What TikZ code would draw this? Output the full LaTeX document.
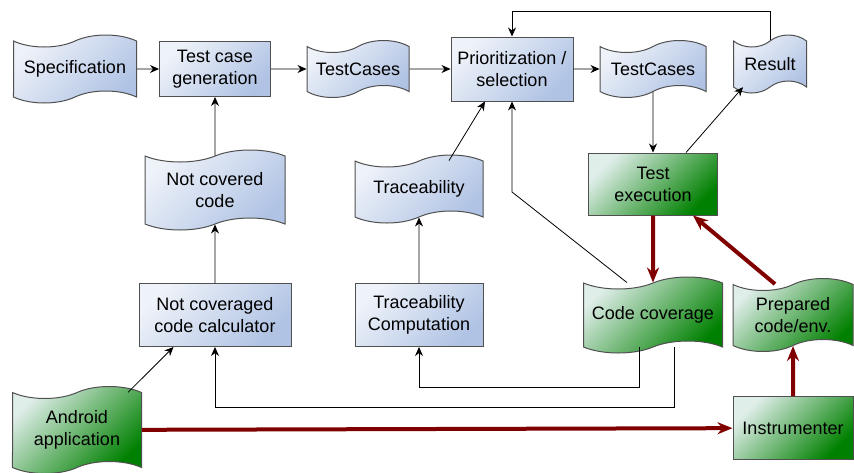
\documentclass[tikz,border=0pt]{standalone}
\usepackage{fontspec}
\setmainfont{Liberation Sans}
\usetikzlibrary{shapes.symbols,positioning,arrows.meta}

\definecolor{blueL}{RGB}{238,242,249}
\definecolor{blueR}{RGB}{176,195,228}
\definecolor{greenL}{RGB}{224,238,234}
\definecolor{greenR}{RGB}{0,128,0}
\definecolor{edgegray}{RGB}{80,80,80}
\definecolor{flowred}{RGB}{128,0,0}

\tikzset{
  base/.style={draw=edgegray, line width=1pt, align=center, inner sep=2pt,
    font=\fontsize{18pt}{22pt}\selectfont},
  bluefill/.style={left color=blueL, right color=blueR, shading angle=45},
  greenfill/.style={left color=greenL, right color=greenR, shading angle=45},
  proc/.style={base, rectangle},
  doc/.style={base, tape, tape bend height=12pt},
  heavy/.style={-{Stealth[length=15pt,width=12pt]}, line width=4pt, draw=flowred},
}

\begin{document}
\begin{tikzpicture}[x=1pt,y=-1pt,>={Stealth[length=9pt,width=8pt]},node distance=140pt,on grid]
  \useasboundingbox (0,0) rectangle (854,472);

  % top row
  \node[doc,bluefill,minimum width=123pt,minimum height=68pt] (spec) at (75,69) {Specification};
  \node[proc,bluefill,minimum width=111pt,minimum height=55pt] (tcg) [right=140pt of spec] {Test case\\generation};
  \node[doc,bluefill,minimum width=102pt,minimum height=57pt] (tc1) [right=143pt of tcg] {TestCases};
  \node[proc,bluefill,minimum width=122pt,minimum height=64pt] (prio) [right=154pt of tc1] {Prioritization /\\selection};
  \node[doc,bluefill,minimum width=106pt,minimum height=57pt] (tc2) [right=141pt of prio] {TestCases};
  \node[doc,bluefill,minimum width=73pt,minimum height=58pt] (result) [above right=5pt and 117pt of tc2] {Result};

  % middle
  \node[proc,greenfill,minimum width=129pt,minimum height=62pt] (exec) [below=115pt of tc2] {Test\\execution};
  \node[doc,bluefill,minimum width=140pt,minimum height=80pt] (notcov) [below=121pt of tcg] {Not covered\\code};
  \node[proc,bluefill,minimum width=152pt,minimum height=63pt] (nccc) [below=125pt of notcov] {Not coveraged\\code calculator};
  \node[proc,bluefill,minimum width=128pt,minimum height=63pt] (tracecomp) [right=204pt of nccc] {Traceability\\Computation};
  \node[doc,bluefill,minimum width=128pt,minimum height=68pt] (trace) [above=126pt of tracecomp] {Traceability};
  \node[doc,greenfill,minimum width=139pt,minimum height=76pt] (cov) [below=131pt of exec] {Code coverage};
  \node[doc,greenfill,minimum width=120pt,minimum height=73pt] (prep) [right=140pt of cov] {Prepared\\code/env.};

  % bottom
  \node[proc,greenfill,minimum width=120pt,minimum height=63pt] (instr) [below=113pt of prep] {Instrumenter};
  \node[doc,greenfill,minimum width=129pt,minimum height=87pt] (android) at (77,430) {Android\\application};

  \path[->,line width=0.8pt]
    (spec) edge (tcg)
    (tcg) edge (tc1)
    (tc1) edge (prio)
    (prio) edge (tc2)
    (tc2) edge (exec)
    (notcov) edge (tcg)
    (nccc) edge (notcov)
    (tracecomp) edge (trace)
    ([xshift=30pt]trace.north) edge ([xshift=-27pt]prio.south)
    ([xshift=33pt]exec.north) edge ([xshift=10pt]result.south west)
    ([xshift=-14pt]android.north east) edge ([xshift=35pt]nccc.south west);

  \draw[->,line width=0.8pt] (result.north) |- ([yshift=25pt]prio.north) -- (prio.north);
  \draw[->,line width=0.8pt] ([xshift=-26pt]cov.north) -- ([yshift=-8pt]prio.south |- exec) -- (prio.south);
  \draw[->,line width=0.8pt] ([xshift=-14pt]cov.south) |- ([yshift=-40pt]tracecomp.south) -- (tracecomp.south);
  \draw[->,line width=0.8pt] ([xshift=21pt]cov.south) |- ([yshift=-60pt]nccc.south) -- (nccc.south);

  \draw[heavy] (android) -- (instr);
  \draw[heavy] (instr) -- (prep);
  \draw[heavy] ([xshift=-18pt]prep.north) -- ([xshift=40pt]exec.south);
  \draw[heavy] (exec) -- (cov);
\end{tikzpicture}
\end{document}
